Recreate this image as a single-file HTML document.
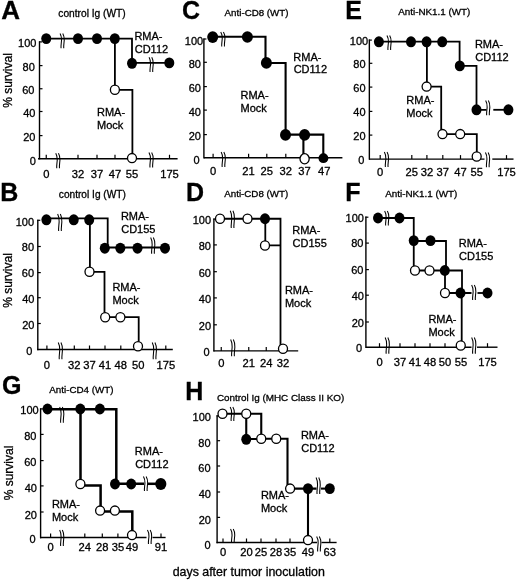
<!DOCTYPE html>
<html><head><meta charset="utf-8"><title>Survival curves</title>
<style>
html,body{margin:0;padding:0;background:#fff;}
body{width:520px;height:581px;overflow:hidden;}
svg{display:block;filter:blur(0.3px);}
svg text{font-family:"Liberation Sans", sans-serif;fill:#000;stroke:#000;stroke-width:0.3px;}
</style></head>
<body>
<svg width="520" height="581" viewBox="0 0 520 581">
<rect width="520" height="581" fill="#fff"/>
<text transform="translate(1.25 19.3) scale(1.04 1)" x="0" y="0" font-size="25" font-weight="bold">A</text>
<text x="58.32" y="17.3" font-size="10.2" text-anchor="start" font-weight="normal">control Ig (WT)</text>
<path d="M39.5 41.3 L39.5 159.4" fill="none" stroke="#000" stroke-width="1.4" stroke-linejoin="miter" stroke-linecap="butt"/>
<path d="M39.5 65.6 L42.5 65.6" fill="none" stroke="#000" stroke-width="1.2" stroke-linejoin="miter" stroke-linecap="butt"/>
<path d="M39.5 88.75 L42.5 88.75" fill="none" stroke="#000" stroke-width="1.2" stroke-linejoin="miter" stroke-linecap="butt"/>
<path d="M39.5 111.5 L42.5 111.5" fill="none" stroke="#000" stroke-width="1.2" stroke-linejoin="miter" stroke-linecap="butt"/>
<path d="M39.5 135.6 L42.5 135.6" fill="none" stroke="#000" stroke-width="1.2" stroke-linejoin="miter" stroke-linecap="butt"/>
<path d="M39 41.9 L42 41.9" fill="none" stroke="#000" stroke-width="1.2" stroke-linejoin="miter" stroke-linecap="butt"/>
<text x="36.48" y="47.49" font-size="11" text-anchor="end" font-weight="normal">100</text>
<text x="34.78" y="71.04" font-size="11" text-anchor="end" font-weight="normal">80</text>
<text x="34.48" y="94.34" font-size="11" text-anchor="end" font-weight="normal">60</text>
<text x="35.38" y="116.99" font-size="11" text-anchor="end" font-weight="normal">40</text>
<text x="35.38" y="140.59" font-size="11" text-anchor="end" font-weight="normal">20</text>
<text x="35.88" y="164.59" font-size="11" text-anchor="end" font-weight="normal">0</text>
<path d="M38 158.75 L177.6 158.75" fill="none" stroke="#000" stroke-width="1.4" stroke-linejoin="miter" stroke-linecap="butt"/>
<path d="M46.25 158.75 L46.25 154.75" fill="none" stroke="#000" stroke-width="1.2" stroke-linejoin="miter" stroke-linecap="butt"/>
<text x="46.25" y="177.9" font-size="11.2" text-anchor="middle" font-weight="normal">0</text>
<path d="M78 158.75 L78 154.75" fill="none" stroke="#000" stroke-width="1.2" stroke-linejoin="miter" stroke-linecap="butt"/>
<text x="78" y="177.9" font-size="11.2" text-anchor="middle" font-weight="normal">32</text>
<path d="M97 158.75 L97 154.75" fill="none" stroke="#000" stroke-width="1.2" stroke-linejoin="miter" stroke-linecap="butt"/>
<text x="97" y="177.9" font-size="11.2" text-anchor="middle" font-weight="normal">37</text>
<path d="M115 158.75 L115 154.75" fill="none" stroke="#000" stroke-width="1.2" stroke-linejoin="miter" stroke-linecap="butt"/>
<text x="115" y="177.9" font-size="11.2" text-anchor="middle" font-weight="normal">47</text>
<path d="M132 158.75 L132 154.75" fill="none" stroke="#000" stroke-width="1.2" stroke-linejoin="miter" stroke-linecap="butt"/>
<text x="132" y="177.9" font-size="11.2" text-anchor="middle" font-weight="normal">55</text>
<path d="M169.5 158.75 L169.5 154.75" fill="none" stroke="#000" stroke-width="1.2" stroke-linejoin="miter" stroke-linecap="butt"/>
<text x="169.5" y="177.9" font-size="11.2" text-anchor="middle" font-weight="normal">175</text>
<path d="M55.75 153.2 C57.05 155.45 57.35 157.7 57.25 159.95 C57.05 162.95 56.45 165.95 56.75 168.2" fill="none" stroke="#000" stroke-width="1.05"/>
<path d="M58.45 153.2 C59.75 155.45 60.05 157.7 59.95 159.95 C59.75 162.95 59.15 165.95 59.45 168.2" fill="none" stroke="#000" stroke-width="1.05"/>
<path d="M148.95 152.5 C150.25 154.75 150.55 157 150.45 159.25 C150.25 162.25 149.65 165.25 149.95 167.5" fill="none" stroke="#000" stroke-width="1.05"/>
<path d="M151.65 152.5 C152.95 154.75 153.25 157 153.15 159.25 C152.95 162.25 152.35 165.25 152.65 167.5" fill="none" stroke="#000" stroke-width="1.05"/>
<text transform="translate(11.67 80.5) rotate(-90)" x="0" y="0" font-size="12" text-anchor="middle">% survival</text>
<path d="M46.25 38.6 L132 38.6 L132 62.9 L169.3 62.9" fill="none" stroke="#000" stroke-width="1.8" stroke-linejoin="miter" stroke-linecap="butt"/>
<path d="M60.05 33.4 C61.35 35.62 61.65 37.84 61.55 40.06 C61.35 43.02 60.75 45.98 61.05 48.2" fill="none" stroke="#000" stroke-width="1.05"/>
<path d="M62.75 33.4 C64.05 35.62 64.35 37.84 64.25 40.06 C64.05 43.02 63.45 45.98 63.75 48.2" fill="none" stroke="#000" stroke-width="1.05"/>
<path d="M149.05 57.2 C150.35 59.42 150.65 61.64 150.55 63.86 C150.35 66.82 149.75 69.78 150.05 72" fill="none" stroke="#000" stroke-width="1.05"/>
<path d="M151.75 57.2 C153.05 59.42 153.35 61.64 153.25 63.86 C153.05 66.82 152.45 69.78 152.75 72" fill="none" stroke="#000" stroke-width="1.05"/>
<ellipse cx="46.25" cy="38.6" rx="5" ry="5.45" fill="#000"/>
<ellipse cx="78" cy="38.6" rx="5" ry="5.45" fill="#000"/>
<ellipse cx="97" cy="38.6" rx="5" ry="5.45" fill="#000"/>
<ellipse cx="114.8" cy="38.6" rx="5" ry="5.45" fill="#000"/>
<ellipse cx="132" cy="63.3" rx="5" ry="5.45" fill="#000"/>
<ellipse cx="169.3" cy="62.9" rx="5" ry="5.45" fill="#000"/>
<path d="M114.9 38.6 L114.9 89.9 L132.4 89.9 L132.4 158.2" fill="none" stroke="#000" stroke-width="1.8" stroke-linejoin="miter" stroke-linecap="butt"/>
<ellipse cx="114.9" cy="89.8" rx="4.5" ry="4.6" fill="#fff" stroke="#000" stroke-width="1.3"/>
<ellipse cx="132" cy="158.1" rx="4.5" ry="4.6" fill="#fff" stroke="#000" stroke-width="1.3"/>
<text x="134.4" y="39.87" font-size="11" text-anchor="start" font-weight="normal">RMA-</text>
<text x="134.74" y="52.87" font-size="11" text-anchor="start" font-weight="normal">CD112</text>
<text x="97" y="115.57" font-size="11" text-anchor="start" font-weight="normal">RMA-</text>
<text x="97" y="128.87" font-size="11" text-anchor="start" font-weight="normal">Mock</text>
<text transform="translate(0.23 200.9) scale(1 1)" x="0" y="0" font-size="25" font-weight="bold">B</text>
<text x="58.87" y="197.9" font-size="10.15" text-anchor="start" font-weight="normal">control Ig (WT)</text>
<path d="M37.8 219.7 L37.8 350.3" fill="none" stroke="#000" stroke-width="1.4" stroke-linejoin="miter" stroke-linecap="butt"/>
<path d="M37.8 246.5 L40.8 246.5" fill="none" stroke="#000" stroke-width="1.2" stroke-linejoin="miter" stroke-linecap="butt"/>
<path d="M37.8 272.6 L40.8 272.6" fill="none" stroke="#000" stroke-width="1.2" stroke-linejoin="miter" stroke-linecap="butt"/>
<path d="M37.8 297.7 L40.8 297.7" fill="none" stroke="#000" stroke-width="1.2" stroke-linejoin="miter" stroke-linecap="butt"/>
<path d="M37.8 323.5 L40.8 323.5" fill="none" stroke="#000" stroke-width="1.2" stroke-linejoin="miter" stroke-linecap="butt"/>
<path d="M37.3 220.3 L40.3 220.3" fill="none" stroke="#000" stroke-width="1.2" stroke-linejoin="miter" stroke-linecap="butt"/>
<text x="34.08" y="225.64" font-size="11" text-anchor="end" font-weight="normal">100</text>
<text x="34.08" y="251.34" font-size="11" text-anchor="end" font-weight="normal">80</text>
<text x="34.08" y="277.44" font-size="11" text-anchor="end" font-weight="normal">60</text>
<text x="34.38" y="302.74" font-size="11" text-anchor="end" font-weight="normal">40</text>
<text x="34.38" y="328.84" font-size="11" text-anchor="end" font-weight="normal">20</text>
<text x="32.38" y="355.04" font-size="11" text-anchor="end" font-weight="normal">0</text>
<path d="M37.3 349.5 L172.8 349.5" fill="none" stroke="#000" stroke-width="1.4" stroke-linejoin="miter" stroke-linecap="butt"/>
<path d="M46.9 349.5 L46.9 345.5" fill="none" stroke="#000" stroke-width="1.2" stroke-linejoin="miter" stroke-linecap="butt"/>
<text x="46.9" y="369.3" font-size="11.2" text-anchor="middle" font-weight="normal">0</text>
<path d="M74.3 349.5 L74.3 345.5" fill="none" stroke="#000" stroke-width="1.2" stroke-linejoin="miter" stroke-linecap="butt"/>
<text x="74.3" y="369.3" font-size="11.2" text-anchor="middle" font-weight="normal">32</text>
<path d="M89.5 349.5 L89.5 345.5" fill="none" stroke="#000" stroke-width="1.2" stroke-linejoin="miter" stroke-linecap="butt"/>
<text x="89.5" y="369.3" font-size="11.2" text-anchor="middle" font-weight="normal">37</text>
<path d="M105 349.5 L105 345.5" fill="none" stroke="#000" stroke-width="1.2" stroke-linejoin="miter" stroke-linecap="butt"/>
<text x="105" y="369.3" font-size="11.2" text-anchor="middle" font-weight="normal">41</text>
<path d="M120.8 349.5 L120.8 345.5" fill="none" stroke="#000" stroke-width="1.2" stroke-linejoin="miter" stroke-linecap="butt"/>
<text x="120.8" y="369.3" font-size="11.2" text-anchor="middle" font-weight="normal">48</text>
<path d="M138.2 349.5 L138.2 345.5" fill="none" stroke="#000" stroke-width="1.2" stroke-linejoin="miter" stroke-linecap="butt"/>
<text x="138.2" y="369.3" font-size="11.2" text-anchor="middle" font-weight="normal">50</text>
<path d="M165.8 349.5 L165.8 345.5" fill="none" stroke="#000" stroke-width="1.2" stroke-linejoin="miter" stroke-linecap="butt"/>
<text x="165.8" y="369.3" font-size="11.2" text-anchor="middle" font-weight="normal">175</text>
<path d="M58.25 342.4 C59.55 344.92 59.85 347.44 59.75 349.96 C59.55 353.32 58.95 356.68 59.25 359.2" fill="none" stroke="#000" stroke-width="1.05"/>
<path d="M60.95 342.4 C62.25 344.92 62.55 347.44 62.45 349.96 C62.25 353.32 61.65 356.68 61.95 359.2" fill="none" stroke="#000" stroke-width="1.05"/>
<path d="M152.25 342.4 C153.55 344.92 153.85 347.44 153.75 349.96 C153.55 353.32 152.95 356.68 153.25 359.2" fill="none" stroke="#000" stroke-width="1.05"/>
<path d="M154.95 342.4 C156.25 344.92 156.55 347.44 156.45 349.96 C156.25 353.32 155.65 356.68 155.95 359.2" fill="none" stroke="#000" stroke-width="1.05"/>
<text transform="translate(12.07 280.5) rotate(-90)" x="0" y="0" font-size="12" text-anchor="middle">% survival</text>
<path d="M45.9 218.3 L107.7 218.3 L107.7 247.5 L165 247.5" fill="none" stroke="#000" stroke-width="1.8" stroke-linejoin="miter" stroke-linecap="butt"/>
<path d="M57.65 214 C58.95 216.55 59.25 219.1 59.15 221.65 C58.95 225.05 58.35 228.45 58.65 231" fill="none" stroke="#000" stroke-width="1.05"/>
<path d="M60.35 214 C61.65 216.55 61.95 219.1 61.85 221.65 C61.65 225.05 61.05 228.45 61.35 231" fill="none" stroke="#000" stroke-width="1.05"/>
<path d="M150.65 237.5 C151.95 239.94 152.25 242.38 152.15 244.81 C151.95 248.06 151.35 251.31 151.65 253.75" fill="none" stroke="#000" stroke-width="1.05"/>
<path d="M153.35 237.5 C154.65 239.94 154.95 242.38 154.85 244.81 C154.65 248.06 154.05 251.31 154.35 253.75" fill="none" stroke="#000" stroke-width="1.05"/>
<ellipse cx="46.4" cy="219.8" rx="5" ry="5.45" fill="#000"/>
<ellipse cx="73.75" cy="219.8" rx="5" ry="5.45" fill="#000"/>
<ellipse cx="89.2" cy="219.8" rx="5" ry="5.45" fill="#000"/>
<ellipse cx="104.8" cy="248.2" rx="5" ry="5.45" fill="#000"/>
<ellipse cx="120.3" cy="248.2" rx="5" ry="5.45" fill="#000"/>
<ellipse cx="137.5" cy="248.2" rx="5" ry="5.45" fill="#000"/>
<ellipse cx="165" cy="248.2" rx="5" ry="5.45" fill="#000"/>
<path d="M89.9 219.3 L89.9 271.8 L104.5 271.8 L104.5 317.2 L138.7 317.2 L138.7 349.5" fill="none" stroke="#000" stroke-width="1.8" stroke-linejoin="miter" stroke-linecap="butt"/>
<ellipse cx="89.5" cy="271.75" rx="4.5" ry="4.6" fill="#fff" stroke="#000" stroke-width="1.3"/>
<ellipse cx="105.2" cy="317.2" rx="4.5" ry="4.6" fill="#fff" stroke="#000" stroke-width="1.3"/>
<ellipse cx="120.4" cy="317.2" rx="4.5" ry="4.6" fill="#fff" stroke="#000" stroke-width="1.3"/>
<ellipse cx="138" cy="346.2" rx="4.5" ry="4.6" fill="#fff" stroke="#000" stroke-width="1.3"/>
<text x="120.9" y="220.27" font-size="11" text-anchor="start" font-weight="normal">RMA-</text>
<text x="121.24" y="233.27" font-size="11" text-anchor="start" font-weight="normal">CD155</text>
<text x="112.4" y="290.97" font-size="11" text-anchor="start" font-weight="normal">RMA-</text>
<text x="112.4" y="303.97" font-size="11" text-anchor="start" font-weight="normal">Mock</text>
<text transform="translate(182.07 19.3) scale(1 1)" x="0" y="0" font-size="25" font-weight="bold">C</text>
<text x="224.58" y="15.6" font-size="9.75" text-anchor="start" font-weight="normal">Anti-CD8 (WT)</text>
<path d="M203.9 38.4 L203.9 158.6" fill="none" stroke="#000" stroke-width="1.4" stroke-linejoin="miter" stroke-linecap="butt"/>
<path d="M203.9 62.3 L206.9 62.3" fill="none" stroke="#000" stroke-width="1.2" stroke-linejoin="miter" stroke-linecap="butt"/>
<path d="M203.9 86.6 L206.9 86.6" fill="none" stroke="#000" stroke-width="1.2" stroke-linejoin="miter" stroke-linecap="butt"/>
<path d="M203.9 110.1 L206.9 110.1" fill="none" stroke="#000" stroke-width="1.2" stroke-linejoin="miter" stroke-linecap="butt"/>
<path d="M203.9 134.6 L206.9 134.6" fill="none" stroke="#000" stroke-width="1.2" stroke-linejoin="miter" stroke-linecap="butt"/>
<path d="M203.4 39 L206.4 39" fill="none" stroke="#000" stroke-width="1.2" stroke-linejoin="miter" stroke-linecap="butt"/>
<text x="203.18" y="44.54" font-size="11" text-anchor="end" font-weight="normal">100</text>
<text x="200.88" y="68.04" font-size="11" text-anchor="end" font-weight="normal">80</text>
<text x="200.88" y="92.34" font-size="11" text-anchor="end" font-weight="normal">60</text>
<text x="200.88" y="115.84" font-size="11" text-anchor="end" font-weight="normal">40</text>
<text x="200.88" y="140.24" font-size="11" text-anchor="end" font-weight="normal">20</text>
<text x="199.58" y="163.84" font-size="11" text-anchor="end" font-weight="normal">0</text>
<path d="M204 157.8 L342.4 157.8" fill="none" stroke="#000" stroke-width="1.4" stroke-linejoin="miter" stroke-linecap="butt"/>
<path d="M213.1 157.8 L213.1 153.8" fill="none" stroke="#000" stroke-width="1.2" stroke-linejoin="miter" stroke-linecap="butt"/>
<text x="213.1" y="174.6" font-size="11.2" text-anchor="middle" font-weight="normal">0</text>
<path d="M248.6 157.8 L248.6 153.8" fill="none" stroke="#000" stroke-width="1.2" stroke-linejoin="miter" stroke-linecap="butt"/>
<text x="248.6" y="174.6" font-size="11.2" text-anchor="middle" font-weight="normal">21</text>
<path d="M266.8 157.8 L266.8 153.8" fill="none" stroke="#000" stroke-width="1.2" stroke-linejoin="miter" stroke-linecap="butt"/>
<text x="266.8" y="174.6" font-size="11.2" text-anchor="middle" font-weight="normal">25</text>
<path d="M285.8 157.8 L285.8 153.8" fill="none" stroke="#000" stroke-width="1.2" stroke-linejoin="miter" stroke-linecap="butt"/>
<text x="285.8" y="174.6" font-size="11.2" text-anchor="middle" font-weight="normal">32</text>
<path d="M304.5 157.8 L304.5 153.8" fill="none" stroke="#000" stroke-width="1.2" stroke-linejoin="miter" stroke-linecap="butt"/>
<text x="304.5" y="174.6" font-size="11.2" text-anchor="middle" font-weight="normal">37</text>
<path d="M324.2 157.8 L324.2 153.8" fill="none" stroke="#000" stroke-width="1.2" stroke-linejoin="miter" stroke-linecap="butt"/>
<text x="324.2" y="174.6" font-size="11.2" text-anchor="middle" font-weight="normal">47</text>
<path d="M221.15 152 C222.45 154.25 222.75 156.5 222.65 158.75 C222.45 161.75 221.85 164.75 222.15 167" fill="none" stroke="#000" stroke-width="1.05"/>
<path d="M223.85 152 C225.15 154.25 225.45 156.5 225.35 158.75 C225.15 161.75 224.55 164.75 224.85 167" fill="none" stroke="#000" stroke-width="1.05"/>
<path d="M212.7 36.8 L265.5 36.8 L265.5 63 L285.6 63 L285.6 134.6 L323.3 134.6 L323.3 157.8" fill="none" stroke="#000" stroke-width="2.1" stroke-linejoin="miter" stroke-linecap="butt"/>
<path d="M220.75 32 C222.05 34.17 222.35 36.35 222.25 38.52 C222.05 41.42 221.45 44.33 221.75 46.5" fill="none" stroke="#000" stroke-width="1.05"/>
<path d="M223.45 32 C224.75 34.17 225.05 36.35 224.95 38.52 C224.75 41.42 224.15 44.33 224.45 46.5" fill="none" stroke="#000" stroke-width="1.05"/>
<ellipse cx="212.7" cy="37.1" rx="5.5" ry="5.8" fill="#000"/>
<ellipse cx="247.4" cy="37" rx="5.5" ry="5.8" fill="#000"/>
<ellipse cx="266.4" cy="62.9" rx="5.5" ry="5.8" fill="#000"/>
<ellipse cx="285.5" cy="134.9" rx="5.5" ry="5.8" fill="#000"/>
<ellipse cx="304.6" cy="134.9" rx="5.5" ry="5.8" fill="#000"/>
<ellipse cx="323.4" cy="158.2" rx="4.9" ry="4.9" fill="#000"/>
<path d="M303.4 135 L303.4 158.8" fill="none" stroke="#000" stroke-width="2.1" stroke-linejoin="miter" stroke-linecap="butt"/>
<ellipse cx="304.6" cy="158.8" rx="4.6" ry="5.1" fill="#fff" stroke="#000" stroke-width="1.3"/>
<text x="293.3" y="60.87" font-size="11" text-anchor="start" font-weight="normal">RMA-</text>
<text x="293.64" y="73.47" font-size="11" text-anchor="start" font-weight="normal">CD112</text>
<text x="240.5" y="98.97" font-size="11" text-anchor="start" font-weight="normal">RMA-</text>
<text x="240.5" y="111.97" font-size="11" text-anchor="start" font-weight="normal">Mock</text>
<text transform="translate(186.03 201.3) scale(1 1)" x="0" y="0" font-size="25" font-weight="bold">D</text>
<text x="224.28" y="197" font-size="9.75" text-anchor="start" font-weight="normal">Anti-CD8 (WT)</text>
<path d="M213.9 218.5 L213.9 351.6" fill="none" stroke="#000" stroke-width="1.4" stroke-linejoin="miter" stroke-linecap="butt"/>
<path d="M213.9 244.9 L216.9 244.9" fill="none" stroke="#000" stroke-width="1.2" stroke-linejoin="miter" stroke-linecap="butt"/>
<path d="M213.9 271.7 L216.9 271.7" fill="none" stroke="#000" stroke-width="1.2" stroke-linejoin="miter" stroke-linecap="butt"/>
<path d="M213.9 297.9 L216.9 297.9" fill="none" stroke="#000" stroke-width="1.2" stroke-linejoin="miter" stroke-linecap="butt"/>
<path d="M213.9 324.8 L216.9 324.8" fill="none" stroke="#000" stroke-width="1.2" stroke-linejoin="miter" stroke-linecap="butt"/>
<path d="M213.4 219.1 L216.4 219.1" fill="none" stroke="#000" stroke-width="1.2" stroke-linejoin="miter" stroke-linecap="butt"/>
<text x="211.08" y="224.34" font-size="11" text-anchor="end" font-weight="normal">100</text>
<text x="210.88" y="250.34" font-size="11" text-anchor="end" font-weight="normal">80</text>
<text x="210.88" y="276.84" font-size="11" text-anchor="end" font-weight="normal">60</text>
<text x="211.08" y="302.74" font-size="11" text-anchor="end" font-weight="normal">40</text>
<text x="211.08" y="329.84" font-size="11" text-anchor="end" font-weight="normal">20</text>
<text x="209.58" y="355.64" font-size="11" text-anchor="end" font-weight="normal">0</text>
<path d="M213.5 350.9 L298.2 350.9" fill="none" stroke="#000" stroke-width="1.4" stroke-linejoin="miter" stroke-linecap="butt"/>
<path d="M221.25 350.9 L221.25 346.9" fill="none" stroke="#000" stroke-width="1.2" stroke-linejoin="miter" stroke-linecap="butt"/>
<text x="221.25" y="367.3" font-size="11.2" text-anchor="middle" font-weight="normal">0</text>
<path d="M248.75 350.9 L248.75 346.9" fill="none" stroke="#000" stroke-width="1.2" stroke-linejoin="miter" stroke-linecap="butt"/>
<text x="248.75" y="367.3" font-size="11.2" text-anchor="middle" font-weight="normal">21</text>
<path d="M266.25 350.9 L266.25 346.9" fill="none" stroke="#000" stroke-width="1.2" stroke-linejoin="miter" stroke-linecap="butt"/>
<text x="266.25" y="367.3" font-size="11.2" text-anchor="middle" font-weight="normal">24</text>
<path d="M283 350.9 L283 346.9" fill="none" stroke="#000" stroke-width="1.2" stroke-linejoin="miter" stroke-linecap="butt"/>
<text x="283" y="367.3" font-size="11.2" text-anchor="middle" font-weight="normal">32</text>
<path d="M230.65 339.5 C231.95 342.01 232.25 344.52 232.15 347.04 C231.95 350.39 231.35 353.74 231.65 356.25" fill="none" stroke="#000" stroke-width="1.05"/>
<path d="M233.35 339.5 C234.65 342.01 234.95 344.52 234.85 347.04 C234.65 350.39 234.05 353.74 234.35 356.25" fill="none" stroke="#000" stroke-width="1.05"/>
<path d="M220 218.75 L280.5 218.75 L280.5 350.9" fill="none" stroke="#000" stroke-width="1.8" stroke-linejoin="miter" stroke-linecap="butt"/>
<path d="M230.25 210.8 C231.55 213.38 231.85 215.96 231.75 218.54 C231.55 221.98 230.95 225.42 231.25 228" fill="none" stroke="#000" stroke-width="1.05"/>
<path d="M232.95 210.8 C234.25 213.38 234.55 215.96 234.45 218.54 C234.25 221.98 233.65 225.42 233.95 228" fill="none" stroke="#000" stroke-width="1.05"/>
<path d="M265.3 218.75 L265.3 245.3 L280.5 245.3" fill="none" stroke="#000" stroke-width="1.8" stroke-linejoin="miter" stroke-linecap="butt"/>
<ellipse cx="220" cy="218.75" rx="4.5" ry="4.6" fill="#fff" stroke="#000" stroke-width="1.3"/>
<ellipse cx="247.5" cy="218.75" rx="4.5" ry="4.6" fill="#fff" stroke="#000" stroke-width="1.3"/>
<ellipse cx="265" cy="218.75" rx="5" ry="5.45" fill="#000"/>
<ellipse cx="265" cy="245.5" rx="4.5" ry="4.6" fill="#fff" stroke="#000" stroke-width="1.3"/>
<ellipse cx="283" cy="348.75" rx="4.5" ry="4.6" fill="#fff" stroke="#000" stroke-width="1.3"/>
<text x="292.2" y="233.97" font-size="11" text-anchor="start" font-weight="normal">RMA-</text>
<text x="292.54" y="246.97" font-size="11" text-anchor="start" font-weight="normal">CD155</text>
<text x="284.9" y="294.17" font-size="11" text-anchor="start" font-weight="normal">RMA-</text>
<text x="284.9" y="307.47" font-size="11" text-anchor="start" font-weight="normal">Mock</text>
<text transform="translate(345.13 18.7) scale(1 1)" x="0" y="0" font-size="25" font-weight="bold">E</text>
<text x="398.18" y="15.4" font-size="9.85" text-anchor="start" font-weight="normal">Anti-NK1.1 (WT)</text>
<path d="M369.35 39.5 L369.35 159.7" fill="none" stroke="#000" stroke-width="1.4" stroke-linejoin="miter" stroke-linecap="butt"/>
<path d="M369.35 63.3 L372.35 63.3" fill="none" stroke="#000" stroke-width="1.2" stroke-linejoin="miter" stroke-linecap="butt"/>
<path d="M369.35 87.1 L372.35 87.1" fill="none" stroke="#000" stroke-width="1.2" stroke-linejoin="miter" stroke-linecap="butt"/>
<path d="M369.35 111.4 L372.35 111.4" fill="none" stroke="#000" stroke-width="1.2" stroke-linejoin="miter" stroke-linecap="butt"/>
<path d="M369.35 135.1 L372.35 135.1" fill="none" stroke="#000" stroke-width="1.2" stroke-linejoin="miter" stroke-linecap="butt"/>
<path d="M368.85 40.1 L371.85 40.1" fill="none" stroke="#000" stroke-width="1.2" stroke-linejoin="miter" stroke-linecap="butt"/>
<text x="368.18" y="44.74" font-size="11" text-anchor="end" font-weight="normal">100</text>
<text x="365.58" y="68.04" font-size="11" text-anchor="end" font-weight="normal">80</text>
<text x="365.58" y="92.34" font-size="11" text-anchor="end" font-weight="normal">60</text>
<text x="365.58" y="116.24" font-size="11" text-anchor="end" font-weight="normal">40</text>
<text x="365.58" y="140.24" font-size="11" text-anchor="end" font-weight="normal">20</text>
<text x="364.28" y="164.14" font-size="11" text-anchor="end" font-weight="normal">0</text>
<path d="M369 159.1 L484.5 159.1" fill="none" stroke="#000" stroke-width="1.4" stroke-linejoin="miter" stroke-linecap="butt"/>
<path d="M492.3 159.1 L513.5 159.1" fill="none" stroke="#000" stroke-width="1.4" stroke-linejoin="miter" stroke-linecap="butt"/>
<path d="M380.2 159.1 L380.2 155.1" fill="none" stroke="#000" stroke-width="1.2" stroke-linejoin="miter" stroke-linecap="butt"/>
<text x="380.2" y="175.5" font-size="11.2" text-anchor="middle" font-weight="normal">0</text>
<path d="M411.8 159.1 L411.8 155.1" fill="none" stroke="#000" stroke-width="1.2" stroke-linejoin="miter" stroke-linecap="butt"/>
<text x="411.8" y="175.5" font-size="11.2" text-anchor="middle" font-weight="normal">25</text>
<path d="M426.9 159.1 L426.9 155.1" fill="none" stroke="#000" stroke-width="1.2" stroke-linejoin="miter" stroke-linecap="butt"/>
<text x="426.9" y="175.5" font-size="11.2" text-anchor="middle" font-weight="normal">32</text>
<path d="M442.8 159.1 L442.8 155.1" fill="none" stroke="#000" stroke-width="1.2" stroke-linejoin="miter" stroke-linecap="butt"/>
<text x="442.8" y="175.5" font-size="11.2" text-anchor="middle" font-weight="normal">37</text>
<path d="M460.5 159.1 L460.5 155.1" fill="none" stroke="#000" stroke-width="1.2" stroke-linejoin="miter" stroke-linecap="butt"/>
<text x="460.5" y="175.5" font-size="11.2" text-anchor="middle" font-weight="normal">47</text>
<path d="M476.7 159.1 L476.7 155.1" fill="none" stroke="#000" stroke-width="1.2" stroke-linejoin="miter" stroke-linecap="butt"/>
<text x="476.7" y="175.5" font-size="11.2" text-anchor="middle" font-weight="normal">55</text>
<path d="M506.5 159.1 L506.5 155.1" fill="none" stroke="#000" stroke-width="1.2" stroke-linejoin="miter" stroke-linecap="butt"/>
<text x="506.5" y="175.5" font-size="11.2" text-anchor="middle" font-weight="normal">175</text>
<path d="M384.35 152 C385.65 154.25 385.95 156.5 385.85 158.75 C385.65 161.75 385.05 164.75 385.35 167" fill="none" stroke="#000" stroke-width="1.05"/>
<path d="M387.05 152 C388.35 154.25 388.65 156.5 388.55 158.75 C388.35 161.75 387.75 164.75 388.05 167" fill="none" stroke="#000" stroke-width="1.05"/>
<path d="M485.45 152.4 C486.75 154.62 487.05 156.84 486.95 159.06 C486.75 162.02 486.15 164.98 486.45 167.2" fill="none" stroke="#000" stroke-width="1.05"/>
<path d="M488.15 152.4 C489.45 154.62 489.75 156.84 489.65 159.06 C489.45 162.02 488.85 164.98 489.15 167.2" fill="none" stroke="#000" stroke-width="1.05"/>
<path d="M378.9 41.7 L459.6 41.7 L459.6 65.9 L476.5 65.9 L476.5 109.8 L486.5 109.8" fill="none" stroke="#000" stroke-width="1.8" stroke-linejoin="miter" stroke-linecap="butt"/>
<path d="M493.3 109.8 L508.4 109.8" fill="none" stroke="#000" stroke-width="1.8" stroke-linejoin="miter" stroke-linecap="butt"/>
<path d="M386.95 35.5 C388.25 37.67 388.55 39.85 388.45 42.02 C388.25 44.92 387.65 47.83 387.95 50" fill="none" stroke="#000" stroke-width="1.05"/>
<path d="M389.65 35.5 C390.95 37.67 391.25 39.85 391.15 42.02 C390.95 44.92 390.35 47.83 390.65 50" fill="none" stroke="#000" stroke-width="1.05"/>
<path d="M485.65 100.5 C486.95 102.72 487.25 104.94 487.15 107.16 C486.95 110.12 486.35 113.08 486.65 115.3" fill="none" stroke="#000" stroke-width="1.05"/>
<path d="M488.35 100.5 C489.65 102.72 489.95 104.94 489.85 107.16 C489.65 110.12 489.05 113.08 489.35 115.3" fill="none" stroke="#000" stroke-width="1.05"/>
<ellipse cx="378.9" cy="41.8" rx="5" ry="5.45" fill="#000"/>
<ellipse cx="411" cy="41.8" rx="5" ry="5.45" fill="#000"/>
<ellipse cx="426.6" cy="41.8" rx="5" ry="5.45" fill="#000"/>
<ellipse cx="442.2" cy="41.8" rx="5" ry="5.45" fill="#000"/>
<ellipse cx="459.8" cy="65.9" rx="5" ry="5.45" fill="#000"/>
<ellipse cx="476.5" cy="109.8" rx="5" ry="5.45" fill="#000"/>
<ellipse cx="508.4" cy="109.8" rx="5" ry="5.45" fill="#000"/>
<path d="M426.9 41.7 L426.9 86.6 L441.2 86.6 L441.2 134.1 L476.8 134.1 L476.8 159.1" fill="none" stroke="#000" stroke-width="1.8" stroke-linejoin="miter" stroke-linecap="butt"/>
<ellipse cx="426.6" cy="86.6" rx="4.5" ry="4.6" fill="#fff" stroke="#000" stroke-width="1.3"/>
<ellipse cx="442.5" cy="134.1" rx="4.5" ry="4.6" fill="#fff" stroke="#000" stroke-width="1.3"/>
<ellipse cx="460.2" cy="134.1" rx="4.5" ry="4.6" fill="#fff" stroke="#000" stroke-width="1.3"/>
<ellipse cx="476.7" cy="156.5" rx="4.5" ry="4.6" fill="#fff" stroke="#000" stroke-width="1.3"/>
<text x="474.9" y="48.37" font-size="11" text-anchor="start" font-weight="normal">RMA-</text>
<text x="475.24" y="61.37" font-size="11" text-anchor="start" font-weight="normal">CD112</text>
<text x="406.3" y="104.17" font-size="11" text-anchor="start" font-weight="normal">RMA-</text>
<text x="406.3" y="117.17" font-size="11" text-anchor="start" font-weight="normal">Mock</text>
<text transform="translate(345.13 200.6) scale(1 1)" x="0" y="0" font-size="25" font-weight="bold">F</text>
<text x="385.18" y="197.2" font-size="9.85" text-anchor="start" font-weight="normal">Anti-NK1.1 (WT)</text>
<path d="M365.9 216.6 L365.9 347.9" fill="none" stroke="#000" stroke-width="1.4" stroke-linejoin="miter" stroke-linecap="butt"/>
<path d="M365.9 243.1 L368.9 243.1" fill="none" stroke="#000" stroke-width="1.2" stroke-linejoin="miter" stroke-linecap="butt"/>
<path d="M365.9 269.6 L368.9 269.6" fill="none" stroke="#000" stroke-width="1.2" stroke-linejoin="miter" stroke-linecap="butt"/>
<path d="M365.9 295.2 L368.9 295.2" fill="none" stroke="#000" stroke-width="1.2" stroke-linejoin="miter" stroke-linecap="butt"/>
<path d="M365.9 322 L368.9 322" fill="none" stroke="#000" stroke-width="1.2" stroke-linejoin="miter" stroke-linecap="butt"/>
<path d="M365.4 217.2 L368.4 217.2" fill="none" stroke="#000" stroke-width="1.2" stroke-linejoin="miter" stroke-linecap="butt"/>
<text x="363.88" y="221.94" font-size="11" text-anchor="end" font-weight="normal">100</text>
<text x="363.48" y="247.34" font-size="11" text-anchor="end" font-weight="normal">80</text>
<text x="363.48" y="273.74" font-size="11" text-anchor="end" font-weight="normal">60</text>
<text x="363.88" y="300.34" font-size="11" text-anchor="end" font-weight="normal">40</text>
<text x="363.88" y="326.84" font-size="11" text-anchor="end" font-weight="normal">20</text>
<text x="362.18" y="352.04" font-size="11" text-anchor="end" font-weight="normal">0</text>
<path d="M366 347.2 L471.5 347.2" fill="none" stroke="#000" stroke-width="1.4" stroke-linejoin="miter" stroke-linecap="butt"/>
<path d="M477 347.2 L497.5 347.2" fill="none" stroke="#000" stroke-width="1.4" stroke-linejoin="miter" stroke-linecap="butt"/>
<path d="M379.5 347.2 L379.5 343.2" fill="none" stroke="#000" stroke-width="1.2" stroke-linejoin="miter" stroke-linecap="butt"/>
<text x="379.5" y="366.2" font-size="11.2" text-anchor="middle" font-weight="normal">0</text>
<path d="M400 347.2 L400 343.2" fill="none" stroke="#000" stroke-width="1.2" stroke-linejoin="miter" stroke-linecap="butt"/>
<text x="400" y="366.2" font-size="11.2" text-anchor="middle" font-weight="normal">37</text>
<path d="M415 347.2 L415 343.2" fill="none" stroke="#000" stroke-width="1.2" stroke-linejoin="miter" stroke-linecap="butt"/>
<text x="415" y="366.2" font-size="11.2" text-anchor="middle" font-weight="normal">41</text>
<path d="M430 347.2 L430 343.2" fill="none" stroke="#000" stroke-width="1.2" stroke-linejoin="miter" stroke-linecap="butt"/>
<text x="430" y="366.2" font-size="11.2" text-anchor="middle" font-weight="normal">48</text>
<path d="M445 347.2 L445 343.2" fill="none" stroke="#000" stroke-width="1.2" stroke-linejoin="miter" stroke-linecap="butt"/>
<text x="445" y="366.2" font-size="11.2" text-anchor="middle" font-weight="normal">50</text>
<path d="M461 347.2 L461 343.2" fill="none" stroke="#000" stroke-width="1.2" stroke-linejoin="miter" stroke-linecap="butt"/>
<text x="461" y="366.2" font-size="11.2" text-anchor="middle" font-weight="normal">55</text>
<path d="M487.5 347.2 L487.5 343.2" fill="none" stroke="#000" stroke-width="1.2" stroke-linejoin="miter" stroke-linecap="butt"/>
<text x="487.5" y="366.2" font-size="11.2" text-anchor="middle" font-weight="normal">175</text>
<path d="M385.15 337.5 C386.45 339.94 386.75 342.38 386.65 344.81 C386.45 348.06 385.85 351.31 386.15 353.75" fill="none" stroke="#000" stroke-width="1.05"/>
<path d="M387.85 337.5 C389.15 339.94 389.45 342.38 389.35 344.81 C389.15 348.06 388.55 351.31 388.85 353.75" fill="none" stroke="#000" stroke-width="1.05"/>
<path d="M471.65 337.5 C472.95 339.94 473.25 342.38 473.15 344.81 C472.95 348.06 472.35 351.31 472.65 353.75" fill="none" stroke="#000" stroke-width="1.05"/>
<path d="M474.35 337.5 C475.65 339.94 475.95 342.38 475.85 344.81 C475.65 348.06 475.05 351.31 475.35 353.75" fill="none" stroke="#000" stroke-width="1.05"/>
<path d="M378 218 L413.75 218 L413.75 241 L446 241 L446 270.5 L462 270.5 L462 293 L471.5 293" fill="none" stroke="#000" stroke-width="1.8" stroke-linejoin="miter" stroke-linecap="butt"/>
<path d="M477.5 293 L487.5 293" fill="none" stroke="#000" stroke-width="1.8" stroke-linejoin="miter" stroke-linecap="butt"/>
<path d="M384.65 211 C385.95 213.18 386.25 215.35 386.15 217.53 C385.95 220.43 385.35 223.32 385.65 225.5" fill="none" stroke="#000" stroke-width="1.05"/>
<path d="M387.35 211 C388.65 213.18 388.95 215.35 388.85 217.53 C388.65 220.43 388.05 223.32 388.35 225.5" fill="none" stroke="#000" stroke-width="1.05"/>
<path d="M471.65 285 C472.95 287.25 473.25 289.5 473.15 291.75 C472.95 294.75 472.35 297.75 472.65 300" fill="none" stroke="#000" stroke-width="1.05"/>
<path d="M474.35 285 C475.65 287.25 475.95 289.5 475.85 291.75 C475.65 294.75 475.05 297.75 475.35 300" fill="none" stroke="#000" stroke-width="1.05"/>
<ellipse cx="378" cy="218" rx="5" ry="5.45" fill="#000"/>
<ellipse cx="399.5" cy="218" rx="5" ry="5.45" fill="#000"/>
<ellipse cx="413.75" cy="240.6" rx="5" ry="5.45" fill="#000"/>
<ellipse cx="430.5" cy="240.6" rx="5" ry="5.45" fill="#000"/>
<path d="M413.75 240.6 L413.75 270.5 L445 270.5 L445 293 L461.7 293 L461.7 345.5" fill="none" stroke="#000" stroke-width="1.8" stroke-linejoin="miter" stroke-linecap="butt"/>
<ellipse cx="415" cy="270.5" rx="4.5" ry="4.6" fill="#fff" stroke="#000" stroke-width="1.3"/>
<ellipse cx="429.5" cy="270.5" rx="4.5" ry="4.6" fill="#fff" stroke="#000" stroke-width="1.3"/>
<ellipse cx="444.8" cy="270.5" rx="5" ry="5.45" fill="#000"/>
<ellipse cx="445" cy="293" rx="4.5" ry="4.6" fill="#fff" stroke="#000" stroke-width="1.3"/>
<ellipse cx="460.5" cy="293" rx="5" ry="5.45" fill="#000"/>
<ellipse cx="487.5" cy="293" rx="5" ry="5.45" fill="#000"/>
<ellipse cx="460.75" cy="345.5" rx="4.5" ry="4.6" fill="#fff" stroke="#000" stroke-width="1.3"/>
<text x="458.7" y="247.27" font-size="11" text-anchor="start" font-weight="normal">RMA-</text>
<text x="459.04" y="260.27" font-size="11" text-anchor="start" font-weight="normal">CD155</text>
<text x="428.4" y="323.07" font-size="11" text-anchor="start" font-weight="normal">RMA-</text>
<text x="428.4" y="336.07" font-size="11" text-anchor="start" font-weight="normal">Mock</text>
<text transform="translate(2.07 393.8) scale(1 1)" x="0" y="0" font-size="25" font-weight="bold">G</text>
<text x="49.28" y="393" font-size="9.8" text-anchor="start" font-weight="normal">Anti-CD4 (WT)</text>
<path d="M40.6 408.3 L40.6 538.3" fill="none" stroke="#000" stroke-width="1.4" stroke-linejoin="miter" stroke-linecap="butt"/>
<path d="M40.6 434.4 L43.6 434.4" fill="none" stroke="#000" stroke-width="1.2" stroke-linejoin="miter" stroke-linecap="butt"/>
<path d="M40.6 460.6 L43.6 460.6" fill="none" stroke="#000" stroke-width="1.2" stroke-linejoin="miter" stroke-linecap="butt"/>
<path d="M40.6 485.9 L43.6 485.9" fill="none" stroke="#000" stroke-width="1.2" stroke-linejoin="miter" stroke-linecap="butt"/>
<path d="M40.6 512 L43.6 512" fill="none" stroke="#000" stroke-width="1.2" stroke-linejoin="miter" stroke-linecap="butt"/>
<path d="M40.1 408.9 L43.1 408.9" fill="none" stroke="#000" stroke-width="1.2" stroke-linejoin="miter" stroke-linecap="butt"/>
<text x="38.68" y="414.34" font-size="11" text-anchor="end" font-weight="normal">100</text>
<text x="36.48" y="439.64" font-size="11" text-anchor="end" font-weight="normal">80</text>
<text x="36.48" y="466.14" font-size="11" text-anchor="end" font-weight="normal">60</text>
<text x="36.88" y="492.04" font-size="11" text-anchor="end" font-weight="normal">40</text>
<text x="36.88" y="518.54" font-size="11" text-anchor="end" font-weight="normal">20</text>
<text x="35.58" y="543.04" font-size="11" text-anchor="end" font-weight="normal">0</text>
<path d="M40 537.5 L146.5 537.5" fill="none" stroke="#000" stroke-width="1.4" stroke-linejoin="miter" stroke-linecap="butt"/>
<path d="M152.5 537.5 L165.6 537.5" fill="none" stroke="#000" stroke-width="1.4" stroke-linejoin="miter" stroke-linecap="butt"/>
<path d="M50.6 537.5 L50.6 533.5" fill="none" stroke="#000" stroke-width="1.2" stroke-linejoin="miter" stroke-linecap="butt"/>
<text x="50.6" y="550.5" font-size="11.2" text-anchor="middle" font-weight="normal">0</text>
<path d="M84.8 537.5 L84.8 533.5" fill="none" stroke="#000" stroke-width="1.2" stroke-linejoin="miter" stroke-linecap="butt"/>
<text x="84.8" y="550.5" font-size="11.2" text-anchor="middle" font-weight="normal">24</text>
<path d="M102.3 537.5 L102.3 533.5" fill="none" stroke="#000" stroke-width="1.2" stroke-linejoin="miter" stroke-linecap="butt"/>
<text x="102.3" y="550.5" font-size="11.2" text-anchor="middle" font-weight="normal">28</text>
<path d="M117.9 537.5 L117.9 533.5" fill="none" stroke="#000" stroke-width="1.2" stroke-linejoin="miter" stroke-linecap="butt"/>
<text x="117.9" y="550.5" font-size="11.2" text-anchor="middle" font-weight="normal">35</text>
<path d="M131.9 537.5 L131.9 533.5" fill="none" stroke="#000" stroke-width="1.2" stroke-linejoin="miter" stroke-linecap="butt"/>
<text x="131.9" y="550.5" font-size="11.2" text-anchor="middle" font-weight="normal">49</text>
<path d="M161 537.5 L161 533.5" fill="none" stroke="#000" stroke-width="1.2" stroke-linejoin="miter" stroke-linecap="butt"/>
<text x="161" y="550.5" font-size="11.2" text-anchor="middle" font-weight="normal">91</text>
<path d="M59.65 530 C60.95 532.4 61.25 534.8 61.15 537.2 C60.95 540.4 60.35 543.6 60.65 546" fill="none" stroke="#000" stroke-width="1.05"/>
<path d="M62.35 530 C63.65 532.4 63.95 534.8 63.85 537.2 C63.65 540.4 63.05 543.6 63.35 546" fill="none" stroke="#000" stroke-width="1.05"/>
<path d="M147.45 530 C148.75 532.1 149.05 534.2 148.95 536.3 C148.75 539.1 148.15 541.9 148.45 544" fill="none" stroke="#000" stroke-width="1.05"/>
<path d="M150.15 530 C151.45 532.1 151.75 534.2 151.65 536.3 C151.45 539.1 150.85 541.9 151.15 544" fill="none" stroke="#000" stroke-width="1.05"/>
<text transform="translate(13.02 473) rotate(-90)" x="0" y="0" font-size="12" text-anchor="middle">% survival</text>
<path d="M47.5 409.2 L116.3 409.2 L116.3 483.8 L144 483.8" fill="none" stroke="#000" stroke-width="2.5" stroke-linejoin="miter" stroke-linecap="butt"/>
<path d="M148 483.8 L160.8 483.8" fill="none" stroke="#000" stroke-width="2.5" stroke-linejoin="miter" stroke-linecap="butt"/>
<path d="M59.65 407 C60.95 409.36 61.25 411.71 61.15 414.06 C60.95 417.2 60.35 420.34 60.65 422.7" fill="none" stroke="#000" stroke-width="1.05"/>
<path d="M62.35 407 C63.65 409.36 63.95 411.71 63.85 414.06 C63.65 417.2 63.05 420.34 63.35 422.7" fill="none" stroke="#000" stroke-width="1.05"/>
<path d="M143.45 476.5 C144.75 478.68 145.05 480.85 144.95 483.02 C144.75 485.93 144.15 488.82 144.45 491" fill="none" stroke="#000" stroke-width="1.05"/>
<path d="M146.15 476.5 C147.45 478.68 147.75 480.85 147.65 483.02 C147.45 485.93 146.85 488.82 147.15 491" fill="none" stroke="#000" stroke-width="1.05"/>
<ellipse cx="47.5" cy="409" rx="5" ry="5.45" fill="#000"/>
<ellipse cx="80.3" cy="409" rx="5" ry="5.45" fill="#000"/>
<ellipse cx="99.9" cy="409" rx="5" ry="5.45" fill="#000"/>
<ellipse cx="115" cy="484" rx="5" ry="5.45" fill="#000"/>
<ellipse cx="131.2" cy="484" rx="5" ry="5.45" fill="#000"/>
<ellipse cx="160.8" cy="484" rx="5.6" ry="5.9" fill="#000"/>
<path d="M80.5 409.2 L80.5 485.6 L100.6 485.6 L100.6 511.4 L132.3 511.4 L132.3 537.5" fill="none" stroke="#000" stroke-width="2.5" stroke-linejoin="miter" stroke-linecap="butt"/>
<ellipse cx="80.4" cy="484" rx="4.5" ry="4.6" fill="#fff" stroke="#000" stroke-width="1.3"/>
<ellipse cx="100.1" cy="510.6" rx="4.5" ry="4.6" fill="#fff" stroke="#000" stroke-width="1.3"/>
<ellipse cx="114.9" cy="510.6" rx="4.5" ry="4.6" fill="#fff" stroke="#000" stroke-width="1.3"/>
<ellipse cx="132" cy="535.1" rx="4.5" ry="4.6" fill="#fff" stroke="#000" stroke-width="1.3"/>
<text x="134.8" y="454.97" font-size="11" text-anchor="start" font-weight="normal">RMA-</text>
<text x="135.14" y="467.97" font-size="11" text-anchor="start" font-weight="normal">CD112</text>
<text x="51.9" y="507.57" font-size="11" text-anchor="start" font-weight="normal">RMA-</text>
<text x="51.9" y="520.87" font-size="11" text-anchor="start" font-weight="normal">Mock</text>
<text transform="translate(185.23 399.5) scale(1 1)" x="0" y="0" font-size="25" font-weight="bold">H</text>
<text x="216.9" y="400.8" font-size="9.9" text-anchor="start" font-weight="normal">Control Ig (MHC Class II KO)</text>
<path d="M217.1 415.3 L217.1 543.3" fill="none" stroke="#000" stroke-width="1.4" stroke-linejoin="miter" stroke-linecap="butt"/>
<path d="M217.1 440.7 L220.1 440.7" fill="none" stroke="#000" stroke-width="1.2" stroke-linejoin="miter" stroke-linecap="butt"/>
<path d="M217.1 466 L220.1 466" fill="none" stroke="#000" stroke-width="1.2" stroke-linejoin="miter" stroke-linecap="butt"/>
<path d="M217.1 492 L220.1 492" fill="none" stroke="#000" stroke-width="1.2" stroke-linejoin="miter" stroke-linecap="butt"/>
<path d="M217.1 517.4 L220.1 517.4" fill="none" stroke="#000" stroke-width="1.2" stroke-linejoin="miter" stroke-linecap="butt"/>
<path d="M216.6 415.9 L219.6 415.9" fill="none" stroke="#000" stroke-width="1.2" stroke-linejoin="miter" stroke-linecap="butt"/>
<text x="210.88" y="421.24" font-size="11" text-anchor="end" font-weight="normal">100</text>
<text x="210.58" y="446.64" font-size="11" text-anchor="end" font-weight="normal">80</text>
<text x="210.58" y="471.74" font-size="11" text-anchor="end" font-weight="normal">60</text>
<text x="210.88" y="497.54" font-size="11" text-anchor="end" font-weight="normal">40</text>
<text x="210.88" y="523.54" font-size="11" text-anchor="end" font-weight="normal">20</text>
<text x="210.58" y="548.54" font-size="11" text-anchor="end" font-weight="normal">0</text>
<path d="M216.5 542.5 L317 542.5" fill="none" stroke="#000" stroke-width="1.4" stroke-linejoin="miter" stroke-linecap="butt"/>
<path d="M321.5 542.5 L336.6 542.5" fill="none" stroke="#000" stroke-width="1.4" stroke-linejoin="miter" stroke-linecap="butt"/>
<path d="M223 542.5 L223 538.5" fill="none" stroke="#000" stroke-width="1.2" stroke-linejoin="miter" stroke-linecap="butt"/>
<text x="223" y="555.7" font-size="11.2" text-anchor="middle" font-weight="normal">0</text>
<path d="M246.5 542.5 L246.5 538.5" fill="none" stroke="#000" stroke-width="1.2" stroke-linejoin="miter" stroke-linecap="butt"/>
<text x="246.5" y="555.7" font-size="11.2" text-anchor="middle" font-weight="normal">20</text>
<path d="M261 542.5 L261 538.5" fill="none" stroke="#000" stroke-width="1.2" stroke-linejoin="miter" stroke-linecap="butt"/>
<text x="261" y="555.7" font-size="11.2" text-anchor="middle" font-weight="normal">25</text>
<path d="M276 542.5 L276 538.5" fill="none" stroke="#000" stroke-width="1.2" stroke-linejoin="miter" stroke-linecap="butt"/>
<text x="276" y="555.7" font-size="11.2" text-anchor="middle" font-weight="normal">28</text>
<path d="M290 542.5 L290 538.5" fill="none" stroke="#000" stroke-width="1.2" stroke-linejoin="miter" stroke-linecap="butt"/>
<text x="290" y="555.7" font-size="11.2" text-anchor="middle" font-weight="normal">35</text>
<path d="M308 542.5 L308 538.5" fill="none" stroke="#000" stroke-width="1.2" stroke-linejoin="miter" stroke-linecap="butt"/>
<text x="308" y="555.7" font-size="11.2" text-anchor="middle" font-weight="normal">49</text>
<path d="M329.8 542.5 L329.8 538.5" fill="none" stroke="#000" stroke-width="1.2" stroke-linejoin="miter" stroke-linecap="butt"/>
<text x="329.8" y="555.7" font-size="11.2" text-anchor="middle" font-weight="normal">63</text>
<path d="M230.55 529 C231.85 531.1 232.15 533.2 232.05 535.3 C231.85 538.1 231.25 540.9 231.55 543" fill="none" stroke="#000" stroke-width="1.05"/>
<path d="M233.25 529 C234.55 531.1 234.85 533.2 234.75 535.3 C234.55 538.1 233.95 540.9 234.25 543" fill="none" stroke="#000" stroke-width="1.05"/>
<path d="M316.65 536.5 C317.95 538.75 318.25 541 318.15 543.25 C317.95 546.25 317.35 549.25 317.65 551.5" fill="none" stroke="#000" stroke-width="1.05"/>
<path d="M319.35 536.5 C320.65 538.75 320.95 541 320.85 543.25 C320.65 546.25 320.05 549.25 320.35 551.5" fill="none" stroke="#000" stroke-width="1.05"/>
<path d="M222.5 413.75 L261.25 413.75 L261.25 438.75 L287.5 438.75 L287.5 488.6 L316.5 488.6" fill="none" stroke="#000" stroke-width="2.1" stroke-linejoin="miter" stroke-linecap="butt"/>
<path d="M321 488.6 L329.8 488.6" fill="none" stroke="#000" stroke-width="2.1" stroke-linejoin="miter" stroke-linecap="butt"/>
<path d="M246.25 413.75 L246.25 439 L261.25 439" fill="none" stroke="#000" stroke-width="2.1" stroke-linejoin="miter" stroke-linecap="butt"/>
<path d="M308 488.6 L308 540" fill="none" stroke="#000" stroke-width="2.1" stroke-linejoin="miter" stroke-linecap="butt"/>
<path d="M230.15 407 C231.45 409.1 231.75 411.2 231.65 413.3 C231.45 416.1 230.85 418.9 231.15 421" fill="none" stroke="#000" stroke-width="1.05"/>
<path d="M232.85 407 C234.15 409.1 234.45 411.2 234.35 413.3 C234.15 416.1 233.55 418.9 233.85 421" fill="none" stroke="#000" stroke-width="1.05"/>
<path d="M316.05 477.5 C317.35 479.98 317.65 482.45 317.55 484.93 C317.35 488.23 316.75 491.52 317.05 494" fill="none" stroke="#000" stroke-width="1.05"/>
<path d="M318.75 477.5 C320.05 479.98 320.35 482.45 320.25 484.93 C320.05 488.23 319.45 491.52 319.75 494" fill="none" stroke="#000" stroke-width="1.05"/>
<ellipse cx="222.5" cy="413.75" rx="4.5" ry="4.6" fill="#fff" stroke="#000" stroke-width="1.3"/>
<ellipse cx="246.25" cy="413.75" rx="4.5" ry="4.6" fill="#fff" stroke="#000" stroke-width="1.3"/>
<ellipse cx="246.25" cy="439.3" rx="5" ry="5.45" fill="#000"/>
<ellipse cx="261.25" cy="438.75" rx="4.5" ry="4.6" fill="#fff" stroke="#000" stroke-width="1.3"/>
<ellipse cx="276.25" cy="438.75" rx="4.5" ry="4.6" fill="#fff" stroke="#000" stroke-width="1.3"/>
<ellipse cx="290.1" cy="488.6" rx="4.5" ry="4.6" fill="#fff" stroke="#000" stroke-width="1.3"/>
<ellipse cx="308" cy="488.6" rx="5" ry="5.45" fill="#000"/>
<ellipse cx="329.8" cy="488.6" rx="5" ry="5.45" fill="#000"/>
<ellipse cx="308" cy="540.1" rx="4.5" ry="4.6" fill="#fff" stroke="#000" stroke-width="1.3"/>
<text x="300.9" y="439.17" font-size="11" text-anchor="start" font-weight="normal">RMA-</text>
<text x="301.24" y="452.17" font-size="11" text-anchor="start" font-weight="normal">CD112</text>
<text x="260.9" y="498.87" font-size="11" text-anchor="start" font-weight="normal">RMA-</text>
<text x="260.9" y="511.87" font-size="11" text-anchor="start" font-weight="normal">Mock</text>
<text x="172.68" y="576.1" font-size="12.4" text-anchor="start" font-weight="normal">days after tumor inoculation</text>
</svg>
</body></html>
